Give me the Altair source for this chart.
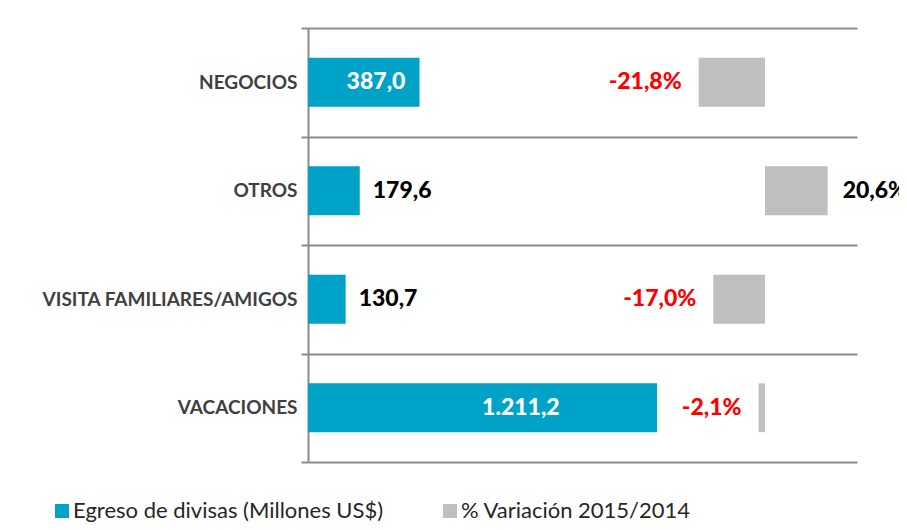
import altair as alt
import pandas as pd

categorias = ["NEGOCIOS", "OTROS", "VISITA FAMILIARES/AMIGOS", "VACACIONES"]
egreso = [387.0, 179.6, 130.7, 1211.2]
variacion = [-21.8, 20.6, -17.0, -2.1]
series = ["Egreso de divisas (Millones US$)", "% Variación 2015/2014"]


def fmt_es(v, dec=1):
    s = f"{v:,.{dec}f}"
    return s.replace(",", "_").replace(".", ",").replace("_", ".")


df = pd.DataFrame({
    "cat": categorias,
    "egreso": egreso,
    "var": variacion,
    "lab_e": [fmt_es(v) for v in egreso],
    "lab_v": [fmt_es(v) + "%" for v in variacion],
})

BLUE = "#00A3C7"
GRAY = "#BFBFBF"
FONT = "Lato"
VW = 900

xs_blue = alt.Scale(domain=[0, 1905.2], nice=False, zero=False)
xs_gray = alt.Scale(domain=[-150.3, 30.26], nice=False, zero=False)

yaxis = alt.Axis(
    title=None, labelFont=FONT, labelFontSize=19, labelFontWeight="bold",
    labelColor="#404040", tickBand="extent", grid=True, gridColor="#8c8c8c",
    gridWidth=2, domainColor="#8c8c8c", domainWidth=2, tickColor="#8c8c8c",
    tickWidth=2, tickSize=7, labelPadding=4, labelLimit=0,
)
yscale = alt.Scale(paddingInner=0, paddingOuter=0)
Y = alt.Y("cat:N", sort=categorias, scale=yscale, axis=yaxis)

color = alt.Color(
    "serie:N",
    scale=alt.Scale(domain=series, range=[BLUE, GRAY]),
    legend=alt.Legend(
        title=None, orient="none", direction="horizontal", legendX=-257,
        legendY=472, symbolType="square", symbolSize=196, symbolStrokeWidth=0,
        labelFont=FONT, labelFontSize=22, labelColor="#262626",
        columnPadding=55, labelOffset=0, labelLimit=0,
    ),
)

base = alt.Chart(df)
BAR_H = alt.RelativeBandSize(0.45)

bar_blue = base.transform_calculate(serie=f"'{series[0]}'").mark_bar(
    height=BAR_H).encode(
    x=alt.X("egreso:Q", scale=xs_blue, axis=None),
    x2=alt.datum(0),
    y=Y,
    color=color,
)

txt_in = base.transform_filter("datum.egreso > 300").transform_calculate(
    pos="datum.egreso * 0.61"
).mark_text(font=FONT, fontSize=23, fontWeight=VW, color="white",
            align="center", baseline="middle").encode(
    x=alt.X("pos:Q", scale=xs_blue, axis=None),
    y=Y,
    text="lab_e:N",
)

txt_out = base.transform_filter("datum.egreso <= 300").mark_text(
    font=FONT, fontSize=23, fontWeight=VW, color="black",
    align="left", baseline="middle", dx=13).encode(
    x=alt.X("egreso:Q", scale=xs_blue, axis=None),
    y=Y,
    text="lab_e:N",
)

bar_gray = base.transform_calculate(serie=f"'{series[1]}'").mark_bar(
    height=BAR_H).encode(
    x=alt.X("var:Q", scale=xs_gray, axis=None),
    x2=alt.datum(0),
    y=Y,
    color=color,
)

txt_neg = base.transform_filter("datum.var < 0").mark_text(
    font=FONT, fontSize=23, fontWeight=VW, color="#FF0000",
    align="right", baseline="middle", dx=-17).encode(
    x=alt.X("var:Q", scale=xs_gray, axis=None),
    y=Y,
    text="lab_v:N",
)

txt_pos = base.transform_filter("datum.var >= 0").mark_text(
    font=FONT, fontSize=23, fontWeight=VW, color="black",
    align="left", baseline="middle", dx=15).encode(
    x=alt.X("var:Q", scale=xs_gray, axis=None),
    y=Y,
    text="lab_v:N",
)

blue_layer = alt.layer(bar_blue, txt_in, txt_out)
gray_layer = alt.layer(bar_gray, txt_neg, txt_pos)

chart = alt.layer(blue_layer, gray_layer).resolve_scale(
    x="independent"
).properties(
    width=549, height=434,
    autosize=alt.AutoSizeParams(type="none"),
    padding={"left": 300, "top": 20, "right": 42, "bottom": 60},
    background="white",
).configure_view(stroke=None)

chart.save("out.html", embed_options={"renderer": "svg", "actions": False})
